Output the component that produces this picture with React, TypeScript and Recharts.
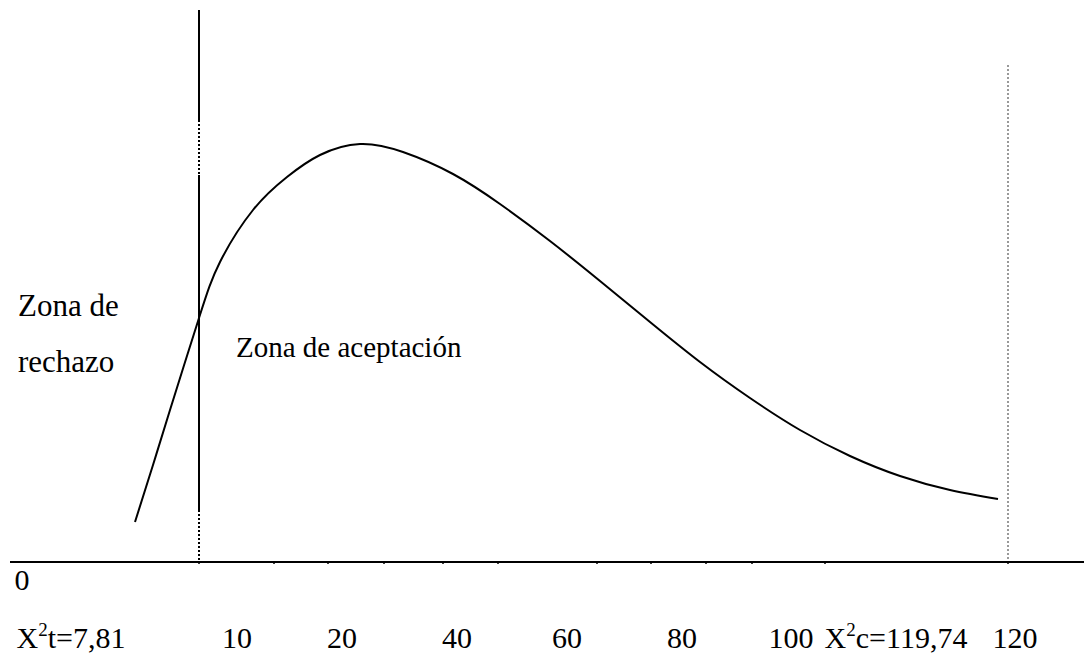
import { LineChart, Line, XAxis, YAxis, ReferenceLine, ReferenceDot } from "recharts"

// positions are in the drawing's own units (0..1074 across, 0..552 up)
const curveX = [125, 143, 160, 189, 210, 243, 277, 310, 350, 393, 443, 490, 540, 590, 640, 690, 740, 790, 840, 890, 940, 988]
const curveY = [40, 97, 152, 244, 300, 352, 385, 407, 418, 410, 388, 358, 321, 281, 240, 200, 164, 132, 106, 86, 72, 63]

const tickMarks = [189, 264, 318, 374, 433, 488, 587, 641, 696, 742, 815, 998]
const labelPos = [12, 61, 227, 332, 447, 557, 672, 781, 886, 1005]
const labelText = ["0", "X²t=7,81", "10", "20", "40", "60", "80", "100", "X²c=119,74", "120"]

const criticalX = 189
const calcX = 998

const data = curveX.map((x, i) => ({ x, y: curveY[i] }))

const FONT = "Liberation Serif"

function AxisLabel(props: any) {
  const { x, y, payload } = props
  const txt = labelText[labelPos.indexOf(payload.value)] ?? ""
  const row = txt === "0" ? 18 : 76
  const parts = txt.split("²")
  return (
    <text x={x} y={y + row} textAnchor="middle" fill="#000" fontFamily={FONT} fontSize={30}>
      {parts.length > 1 ? (
        <>
          <tspan>{parts[0]}</tspan>
          <tspan dy={-12} fontSize={19}>2</tspan>
          <tspan dy={12}>{parts[1]}</tspan>
        </>
      ) : (
        txt
      )}
    </text>
  )
}

function ZoneText(props: any) {
  const { viewBox, lines, size } = props
  return (
    <text x={viewBox.x} y={viewBox.y} fill="#000" fontFamily={FONT} fontSize={size}>
      {lines.map((l: string, i: number) => (
        <tspan key={i} x={viewBox.x} dy={i ? 56 : 0}>{l}</tspan>
      ))}
    </text>
  )
}

export default function App() {
  return (
    <div style={{ position: "absolute", left: 0, top: 0, background: "#fff", fontFamily: FONT }}>
      <LineChart width={1084} height={657} data={data} margin={{ top: 10, right: 0, bottom: 0, left: 10 }}>
        <XAxis
          dataKey="x"
          type="number"
          domain={[0, 1074]}
          ticks={tickMarks}
          height={10}
          axisLine={{ stroke: "#000", strokeWidth: 2 }}
          tickLine={{ stroke: "#000", strokeWidth: 1.5 }}
          tickSize={2}
          tick={() => <g />}
          interval={0}
        />
        <XAxis
          xAxisId="lbl"
          dataKey="x"
          type="number"
          domain={[0, 1074]}
          ticks={labelPos}
          height={85}
          axisLine={false}
          tickLine={false}
          tickSize={0}
          tickMargin={0}
          tick={<AxisLabel />}
          interval={0}
        />
        <YAxis
          type="number"
          domain={[0, 552]}
          width={0}
          tick={false}
          axisLine={{ stroke: "#000", strokeWidth: 2 }}
          tickLine={false}
        />

        <ReferenceLine segment={[{ x: criticalX, y: 552 }, { x: criticalX, y: 442 }]} stroke="#000" strokeWidth={2} />
        <ReferenceLine segment={[{ x: criticalX, y: 442 }, { x: criticalX, y: 387 }]} stroke="#000" strokeWidth={2} strokeDasharray="2 2" />
        <ReferenceLine segment={[{ x: criticalX, y: 387 }, { x: criticalX, y: 52 }]} stroke="#000" strokeWidth={2} />
        <ReferenceLine segment={[{ x: criticalX, y: 52 }, { x: criticalX, y: 0 }]} stroke="#000" strokeWidth={2} strokeDasharray="2 2" />
        <ReferenceLine segment={[{ x: calcX, y: 497 }, { x: calcX, y: 0 }]} stroke="#999" strokeWidth={2} strokeDasharray="2 2" />

        <ReferenceDot x={8} y={246} r={0} fill="none" stroke="none" label={<ZoneText lines={["Zona de", "rechazo"]} size={31} />} />
        <ReferenceDot x={226} y={205} r={0} fill="none" stroke="none" label={<ZoneText lines={["Zona de aceptación"]} size={29} />} />

        <Line
          dataKey="y"
          type="natural"
          stroke="#000"
          strokeWidth={2}
          dot={false}
          isAnimationActive={false}
        />
      </LineChart>
    </div>
  )
}
